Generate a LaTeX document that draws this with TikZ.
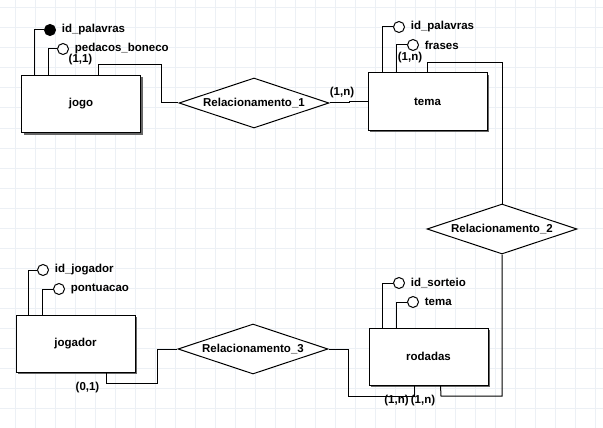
\documentclass[tikz,border=0pt]{standalone}
\usepackage{fontspec}
\setmainfont{Liberation Sans}
\usetikzlibrary{shapes.geometric,shadows}
\definecolor{gridgray}{RGB}{236,240,245}

\begin{document}
\begin{tikzpicture}[x=1pt,y=-1pt,
    font=\fontsize{11.5}{13}\selectfont\bfseries,
    line width=1pt, label distance=2pt,
    entity/.style={draw,fill=white,minimum width=119pt,minimum height=57pt,
      drop shadow={shadow xshift=2pt,shadow yshift=-2pt,fill=black!60,opacity=1}},
    relation/.style={draw,fill=white,diamond,aspect=3,
      minimum width=150pt,minimum height=50pt,inner sep=0pt},
    attr/.style={draw,circle,fill=white,minimum size=11pt,inner sep=0pt},
    keyattr/.style={attr,fill=black},
    gridline/.style={draw=gridgray,line width=1pt}]
  \fill[white] (0,0) rectangle (603,428);
  \useasboundingbox (0,0) rectangle (603,428);
  \foreach \x in {15,35,...,595} \draw[gridline] (\x,0) -- (\x,428);
  \foreach \y in {8,28,...,428} \draw[gridline] (0,\y) -- (603,\y);

  % entities and relations
  \node[entity] (jogo) at (81,104) {jogo};
  \node[entity] (tema) at (427.5,101.5) {tema};
  \node[entity] (jogador) at (75.5,343.5) {jogador};
  \node[entity] (rodadas) at (428.5,356.5) {rodadas};
  \node[relation] (rel1) at (254,103) {Relacionamento\_1};
  \node[relation] (rel2) at (502,229) {Relacionamento\_2};
  \node[relation] (rel3) at (253,349) {Relacionamento\_3};

  % attributes
  \node[keyattr,label=right:id\_palavras] (jogo-a1) at (50,30) {};
  \node[attr,label=right:pedacos\_boneco] (jogo-a2) at (63,49) {};
  \node[attr,label=right:id\_palavras] (tema-a1) at (399,27) {};
  \node[attr,label=right:frases] (tema-a2) at (413,45) {};
  \node[attr,label=right:id\_jogador] (jogador-a1) at (43,270) {};
  \node[attr,label=right:pontuacao] (jogador-a2) at (59,289) {};
  \node[attr,label=right:id\_sorteio] (rodadas-a1) at (399,283) {};
  \node[attr,label=right:tema] (rodadas-a2) at (413,302) {};

  % cardinalities
  \node (card1) at (80.5,59.5) {(1,1)};
  \node (card2) at (342,92.5) {(1,n)};
  \node (card3) at (410,57.5) {(1,n)};
  \node (card4) at (87.5,388) {(0,1)};
  \node (card5) at (396.5,400.5) {(1,n)};
  \node (card6) at (423,400.5) {(1,n)};

  \begin{scope}[-]
    \draw (jogo-a1) -| ([xshift=13pt]jogo.north west);
    \draw (jogo-a2) -| ([xshift=27pt]jogo.north west);
    \draw (tema-a1) -| ([xshift=15pt]tema.north west);
    \draw (tema-a2) -| ([xshift=29pt]tema.north west);
    \draw (jogador-a1) -| ([xshift=13pt]jogador.north west);
    \draw (jogador-a2) -| ([xshift=27pt]jogador.north west);
    \draw (rodadas-a1) -| ([xshift=14pt]rodadas.north west);
    \draw (rodadas-a2) -| ([xshift=28pt]rodadas.north west);
    \draw ([xshift=77pt]jogo.north west) |- (161,65) |- (rel1);
    \draw (rel1.east) -- ++(20,0) |- (tema.west);
    \draw ([xshift=60pt]tema.north west) |- (502,63) -- (rel2);
    \draw (rel2) |- (441,396) -- ([xshift=72pt]rodadas.south west);
    \draw ([xshift=91pt]jogador.south west) |- (157,383) |- (rel3);
    \draw (rel3) -| (348,396) -| ([xshift=46pt]rodadas.south west);
  \end{scope}
\end{tikzpicture}
\end{document}
